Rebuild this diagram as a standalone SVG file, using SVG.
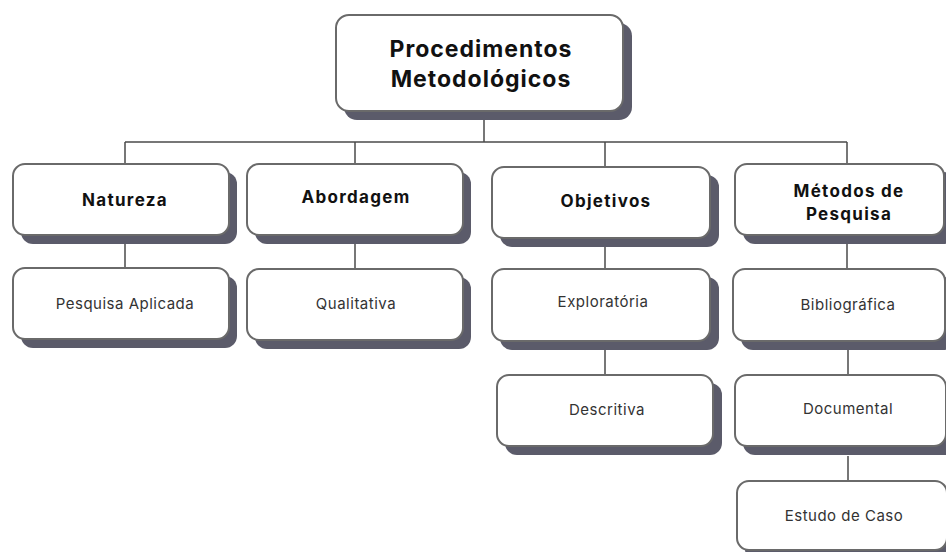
<svg xmlns="http://www.w3.org/2000/svg" width="946" height="552" viewBox="0 0 946 552">
<defs>
<style>
.sh{fill:#5b5b6a}
.bx{fill:#ffffff;stroke:#6a6a6a;stroke-width:2}
.h{font-family:Inter,"Liberation Sans",sans-serif;font-weight:700;fill:#111;text-anchor:middle}
.h1{font-size:23px;letter-spacing:1px}
.h2{font-size:17px;letter-spacing:1.3px}
.t{font-family:Inter,"Liberation Sans",sans-serif;font-size:15px;letter-spacing:0.5px;fill:#333;text-anchor:middle}
.ln{stroke:#4a4a4a;stroke-width:1.5;fill:none}
</style>
</defs>
<rect width="946" height="552" fill="#ffffff"/>
<g id="connectors">
<line class="ln" x1="484" y1="118" x2="484" y2="142"/>
<line class="ln" x1="125" y1="142" x2="847" y2="142"/>
<line class="ln" x1="125" y1="142" x2="125" y2="164"/>
<line class="ln" x1="355" y1="142" x2="355" y2="164"/>
<line class="ln" x1="605" y1="142" x2="605" y2="167"/>
<line class="ln" x1="847" y1="142" x2="847" y2="164"/>
<line class="ln" x1="125" y1="243" x2="125" y2="268"/>
<line class="ln" x1="355" y1="243" x2="355" y2="269"/>
<line class="ln" x1="605" y1="246" x2="605" y2="269"/>
<line class="ln" x1="605" y1="350" x2="605" y2="375"/>
<line class="ln" x1="847" y1="243" x2="847" y2="269"/>
<line class="ln" x1="848" y1="350" x2="848" y2="375"/>
<line class="ln" x1="848" y1="456" x2="848" y2="481"/>
</g>
<g id="root">
<rect class="sh" x="344" y="23" width="288" height="97" rx="13"/>
<rect class="bx" x="336" y="15" width="287" height="96" rx="13"/>
<text class="h h1" x="481" y="57">Procedimentos</text>
<text class="h h1" x="481" y="87">Metodológicos</text>
</g>
<g id="natureza">
<rect class="sh" x="21" y="172" width="216" height="72" rx="12"/>
<rect class="bx" x="13" y="164" width="216" height="71" rx="12"/>
<text class="h h2" x="125" y="206">Natureza</text>
</g>
<g id="abordagem">
<rect class="sh" x="255" y="172" width="216" height="72" rx="12"/>
<rect class="bx" x="247" y="164" width="216" height="71" rx="12"/>
<text class="h h2" x="356" y="203">Abordagem</text>
</g>
<g id="objetivos">
<rect class="sh" x="500" y="175" width="219" height="72" rx="12"/>
<rect class="bx" x="492" y="167" width="218" height="71" rx="12"/>
<text class="h h2" x="606" y="207">Objetivos</text>
</g>
<g id="metodos">
<rect class="sh" x="743" y="172" width="212" height="72" rx="12"/>
<rect class="bx" x="735" y="164" width="209" height="71" rx="12"/>
<text class="h h2" x="849" y="197">Métodos de</text>
<text class="h h2" x="849" y="220">Pesquisa</text>
</g>
<g id="pesquisa-aplicada">
<rect class="sh" x="21" y="276" width="216" height="72" rx="12"/>
<rect class="bx" x="13" y="268" width="216" height="71" rx="12"/>
<text class="t" x="125" y="309">Pesquisa Aplicada</text>
</g>
<g id="qualitativa">
<rect class="sh" x="255" y="277" width="216" height="72" rx="12"/>
<rect class="bx" x="247" y="269" width="216" height="71" rx="12"/>
<text class="t" x="356" y="309">Qualitativa</text>
</g>
<g id="exploratoria">
<rect class="sh" x="500" y="277" width="219" height="73" rx="12"/>
<rect class="bx" x="492" y="269" width="218" height="72" rx="12"/>
<text class="t" x="603" y="307">Exploratória</text>
</g>
<g id="descritiva">
<rect class="sh" x="505" y="383" width="217" height="72" rx="12"/>
<rect class="bx" x="497" y="375" width="216" height="71" rx="12"/>
<text class="t" x="607" y="415">Descritiva</text>
</g>
<g id="bibliografica">
<rect class="sh" x="741" y="277" width="214" height="73" rx="12"/>
<rect class="bx" x="733" y="269" width="212" height="72" rx="12"/>
<text class="t" x="848" y="310">Bibliográfica</text>
</g>
<g id="documental">
<rect class="sh" x="743" y="383" width="214" height="72" rx="12"/>
<rect class="bx" x="735" y="375" width="211" height="71" rx="12"/>
<text class="t" x="848" y="414">Documental</text>
</g>
<g id="estudo-de-caso">
<rect class="sh" x="745" y="489" width="214" height="72" rx="12"/>
<rect class="bx" x="737" y="481" width="210" height="69" rx="12"/>
<text class="t" x="844" y="521">Estudo de Caso</text>
</g>
</svg>
